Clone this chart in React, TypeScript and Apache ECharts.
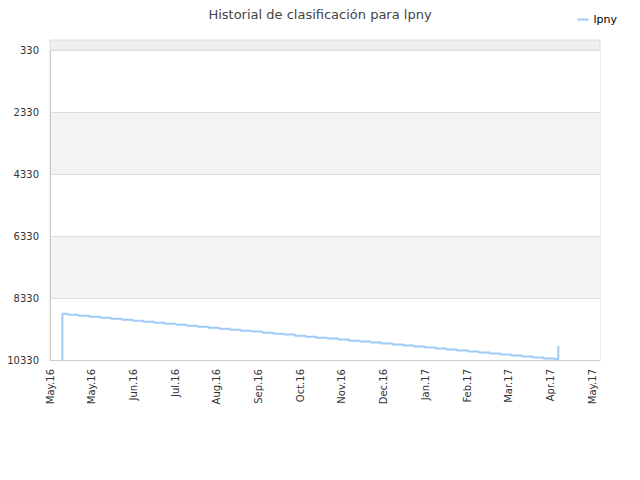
import React, { useEffect, useRef } from 'react'
import * as echarts from 'echarts'

const title = 'Historial de clasificación para lpny'
const seriesName = 'lpny'

// x en días desde el inicio, etiquetas cada 27 días
const tickLabels = [
  'May.16', 'May.16', 'Jun.16', 'Jul.16', 'Aug.16', 'Sep.16', 'Oct.16',
  'Nov.16', 'Dec.16', 'Jan.17', 'Feb.17', 'Mar.17', 'Apr.17', 'May.17',
]
const tickStep = 27
const xMax = 356

const yTop = 330
const yBottom = 10330
const yStep = 2000

const days = [
  8, 8, 11.5, 18.5, 25.5, 32.5, 39.5, 46.5, 53.5, 60.5, 67.5, 74.5, 81.5, 88.5,
  95.5, 102.5, 109.5, 116.5, 123.5, 130.5, 137.5, 144.5, 151.5, 158.5, 165.5,
  172.5, 179.5, 186.5, 193.5, 200.5, 207.5, 214.5, 221.5, 228.5, 235.5, 242.5,
  249.5, 256.5, 263.5, 270.5, 277.5, 284.5, 291.5, 298.5, 305.5, 312.5, 319.5,
  326.5, 329,
]
const ranks = [
  10330, 8840, 8871, 8903, 8937, 8966, 9001, 9030, 9064, 9097, 9127, 9160, 9192,
  9223, 9257, 9289, 9318, 9352, 9385, 9414, 9449, 9480, 9511, 9545, 9576, 9609,
  9640, 9671, 9705, 9737, 9768, 9799, 9833, 9864, 9895, 9929, 9960, 9991, 10025,
  10056, 10087, 10121, 10152, 10183, 10216, 10248, 10279, 10308, 9879,
]

export default function App() {
  const chartRef = useRef<HTMLDivElement>(null)

  useEffect(() => {
    if (!chartRef.current) return
    const chart = echarts.init(chartRef.current, null, { renderer: 'svg' })

    const option = {
      animation: false,
      textStyle: { fontFamily: 'DejaVu Sans' },
      title: {
        text: title,
        left: 'center',
        top: 3,
        textStyle: { fontSize: 13, fontWeight: 'normal', color: '#444', fontFamily: 'DejaVu Sans' },
      },
      legend: {
        data: [seriesName],
        right: 18,
        top: 9,
        icon: 'rect',
        itemWidth: 11,
        itemHeight: 2,
        itemGap: 5,
        textStyle: { fontSize: 11, color: '#000', fontFamily: 'DejaVu Sans' },
      },
      graphic: [
        {
          type: 'rect',
          shape: { x: 50, y: 40, width: 550, height: 10 },
          style: { fill: '#efefef', stroke: '#dddddd', lineWidth: 1 },
          silent: true,
        },
      ],
      grid: {
        left: 50,
        right: 40,
        top: 50,
        bottom: 120,
        show: true,
        borderColor: '#dddddd',
        borderWidth: 1,
      },
      xAxis: {
        type: 'value',
        min: 0,
        max: xMax,
        interval: tickStep,
        axisLine: { show: true, lineStyle: { color: '#cccccc' } },
        axisTick: { show: false },
        splitLine: { show: false },
        axisLabel: {
          rotate: 90,
          margin: 9,
          fontSize: 10,
          color: '#333',
          fontFamily: 'DejaVu Sans',
          formatter: (v: number) => {
            const i = Math.round(v / tickStep)
            return Math.abs(v - i * tickStep) < 0.01 && tickLabels[i] ? tickLabels[i] : ''
          },
        },
      },
      yAxis: {
        type: 'value',
        inverse: true,
        min: yTop,
        max: yBottom,
        interval: yStep,
        axisLine: { show: true, lineStyle: { color: '#cccccc' } },
        axisTick: { show: false },
        axisLabel: {
          fontSize: 10,
          color: '#333',
          margin: 11,
          fontFamily: 'DejaVu Sans',
          formatter: (v: number) => String(v),
        },
        splitLine: { show: true, lineStyle: { color: '#dddddd' } },
        splitArea: { show: true, areaStyle: { color: ['#ffffff', '#f3f3f3'] } },
      },
      series: [
        {
          name: seriesName,
          type: 'line',
          step: 'end',
          showSymbol: false,
          clip: true,
          data: days.map((d, i) => [d, ranks[i]]),
          lineStyle: { color: '#9ecaf5', width: 2 },
          itemStyle: { color: '#9ecaf5' },
        },
      ],
    }

    chart.setOption(option)
    return () => chart.dispose()
  }, [])

  return <div ref={chartRef} style={{ width: 640, height: 480, margin: -8 }} />
}
